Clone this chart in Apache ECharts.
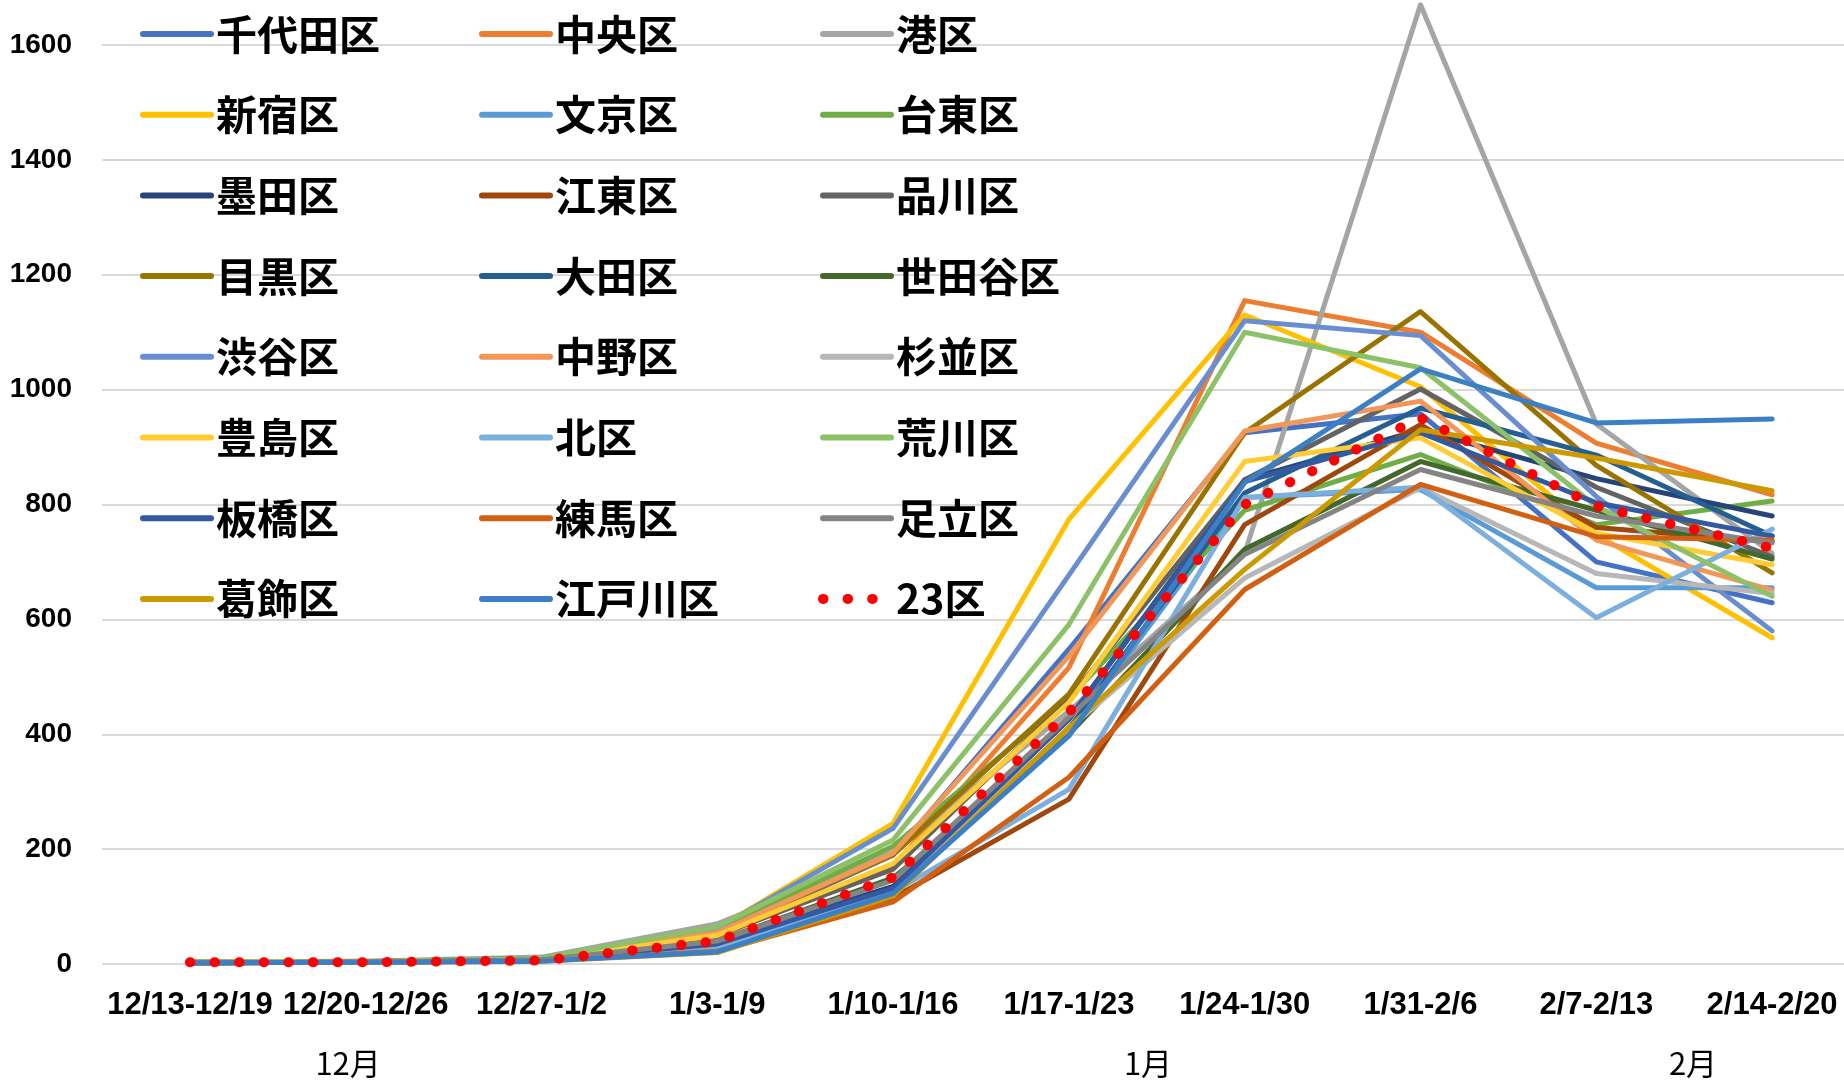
<!DOCTYPE html>
<html>
<head>
<meta charset="utf-8">
<title>東京23区 週別推移</title>
<script src="https://cdn.jsdelivr.net/npm/echarts@6/dist/echarts.min.js"></script>
<style>
    html, body { margin: 0; padding: 0; background: #fff; }
    #chart { width: 1844px; height: 1081px; }
</style>
</head>
<body>
<div id="chart"></div>
<script>
// x軸の週
const weeks = ['12/13-12/19', '12/20-12/26', '12/27-1/2', '1/3-1/9', '1/10-1/16',
    '1/17-1/23', '1/24-1/30', '1/31-2/6', '2/7-2/13', '2/14-2/20'];
// 下段の月ラベル（月軸上の位置は週の番号で数える）
const monthNames = ['12月', '1月', '2月'];
const monthLabelAt = [1.4, 5.95, 9.05];

// 各区の値
const chiyoda  = [3, 4, 8, 50, 190, 548, 925, 958, 700, 629];
const chuo     = [3, 5, 8, 48, 170, 516, 1155, 1100, 907, 817];
const minato   = [4, 5, 12, 70, 195, 440, 715, 1670, 940, 715];
const shinjuku = [3, 4, 9, 62, 245, 774, 1130, 1005, 748, 568];
const bunkyo   = [2, 3, 6, 35, 130, 400, 812, 826, 655, 655];
const taito    = [3, 4, 10, 60, 205, 462, 790, 887, 765, 806];
const sumida   = [2, 3, 7, 40, 135, 426, 843, 930, 845, 780];
const koto     = [2, 3, 6, 30, 115, 287, 765, 939, 760, 735];
const shinagawa= [3, 4, 9, 50, 165, 461, 843, 1001, 830, 709];
const meguro   = [3, 4, 10, 55, 190, 470, 925, 1136, 868, 681];
const ota      = [2, 3, 6, 30, 125, 410, 820, 968, 886, 745];
const setagaya = [2, 3, 7, 40, 150, 400, 722, 875, 790, 705];
const shibuya  = [3, 4, 10, 62, 236, 677, 1120, 1094, 814, 580];
const nakano   = [3, 4, 9, 55, 193, 536, 928, 980, 738, 651];
const suginami = [2, 3, 6, 30, 130, 410, 672, 829, 680, 645];
const toshima  = [3, 4, 8, 50, 175, 455, 875, 916, 750, 695];
const kita     = [2, 3, 6, 30, 125, 304, 812, 830, 603, 757];
const arakawa  = [3, 4, 10, 65, 216, 591, 1100, 1038, 797, 640];
const itabashi = [2, 3, 7, 35, 132, 426, 840, 925, 803, 745];
const nerima   = [2, 3, 5, 22, 108, 325, 652, 835, 744, 738];
const adachi   = [2, 3, 7, 40, 146, 430, 713, 861, 780, 733];
const katsushika = [2, 3, 5, 20, 118, 412, 687, 930, 881, 824];
const edogawa  = [2, 3, 5, 21, 123, 397, 838, 1036, 942, 949];
const ku23     = [3, 3, 6, 40, 151, 438, 800, 951, 797, 724];

const wardNames = ['千代田区', '中央区', '港区', '新宿区', '文京区', '台東区', '墨田区', '江東区',
    '品川区', '目黒区', '大田区', '世田谷区', '渋谷区', '中野区', '杉並区', '豊島区', '北区',
    '荒川区', '板橋区', '練馬区', '足立区', '葛飾区', '江戸川区'];
const wardValues = [chiyoda, chuo, minato, shinjuku, bunkyo, taito, sumida, koto, shinagawa,
    meguro, ota, setagaya, shibuya, nakano, suginami, toshima, kita, arakawa, itabashi, nerima,
    adachi, katsushika, edogawa];
// Excel既定の系列色
const wardColors = ['#4472C4', '#ED7D31', '#A5A5A5', '#FFC000', '#5B9BD5', '#70AD47',
    '#264478', '#9E480E', '#636363', '#997300', '#255E91', '#43682B',
    '#698ED0', '#F1975A', '#B7B7B7', '#FFCD33', '#7CAFDD', '#8CC168',
    '#335AA1', '#D26012', '#848484', '#CC9A00', '#3C7FC4'];
const totalName = '23区';

let chart = echarts.init(document.getElementById('chart'));

// 区ごとの折れ線
let series = wardNames.map(function (name, i) {
    return {
        name: name,
        type: 'line',
        data: wardValues[i],
        symbol: 'none',
        clip: false,
        animation: false,
        itemStyle: { color: wardColors[i] },
        lineStyle: { color: wardColors[i], width: 5, cap: 'round', join: 'round' },
        emphasis: { disabled: true }
    };
});
// 23区は赤い点線
series.push({
    name: totalName,
    type: 'line',
    data: ku23,
    symbol: 'none',
    clip: false,
    animation: false,
    itemStyle: { color: '#FF0000' },
    lineStyle: { color: '#FF0000', width: 10, type: [0.5, 24.1], cap: 'round' },
    emphasis: { disabled: true }
});

// 凡例は3列
let allNames = wardNames.concat([totalName]);
let legendLeft = [140, 479, 818];
let legends = legendLeft.map(function (left, col) {
    return {
        orient: 'vertical',
        left: left,
        top: 9,
        padding: 0,
        itemWidth: 68,
        itemHeight: 14,
        itemGap: 30.7,
        selectedMode: false,
        itemStyle: { opacity: 0 },   // 凡例の丸いマーカーは出さない
        lineStyle: { width: 6 },
        textStyle: {
            fontSize: 41,
            fontWeight: 'bold',
            fontFamily: '"Noto Sans CJK JP", sans-serif',
            color: '#000',
            lineHeight: 50
        },
        data: allNames.filter(function (n, i) { return i % 3 === col; }).map(function (n) {
            return n === totalName ? { name: n, lineStyle: { width: 10 } } : n;
        })
    };
});

let option = {
    backgroundColor: '#fff',
    animation: false,
    legend: legends,
    grid: {
        left: 102,
        right: -16,
        top: 45,
        bottom: 117,
        outerBoundsMode: 'none'
    },
    xAxis: [{
        type: 'category',
        data: weeks,
        boundaryGap: true,
        axisLine: { show: false },
        axisTick: { show: false },
        axisLabel: {
            interval: 0,
            margin: 26,
            fontSize: 31,
            fontWeight: 'bold',
            fontFamily: '"Liberation Sans", Arial, sans-serif',
            color: '#000'
        }
    }, {
        // 月のラベル用の軸
        type: 'value',
        position: 'bottom',
        min: 0,
        max: weeks.length,
        interval: 0.05,
        axisLine: { show: false },
        axisTick: { show: false },
        splitLine: { show: false },
        axisLabel: {
            margin: 84,
            fontSize: 31,
            fontFamily: '"Noto Sans CJK JP", sans-serif',
            color: '#000',
            showMinLabel: true,
            showMaxLabel: true,
            formatter: function (v) {
                for (let i = 0; i < monthLabelAt.length; i++) {
                    if (Math.abs(v - monthLabelAt[i]) < 1e-6) return monthNames[i];
                }
                return '';
            }
        }
    }],
    yAxis: {
        type: 'value',
        min: 0,
        max: 1600,
        interval: 200,
        axisLine: { show: false },
        axisTick: { show: false },
        axisLabel: {
            margin: 30,
            fontSize: 28,
            fontWeight: 'bold',
            fontFamily: '"Liberation Sans", Arial, sans-serif',
            color: '#000',
            formatter: function (v) { return String(v); }
        },
        splitLine: { lineStyle: { color: '#D9D9D9', width: 2 } }
    },
    series: series
};
chart.setOption(option, true);
</script>
</body>
</html>
